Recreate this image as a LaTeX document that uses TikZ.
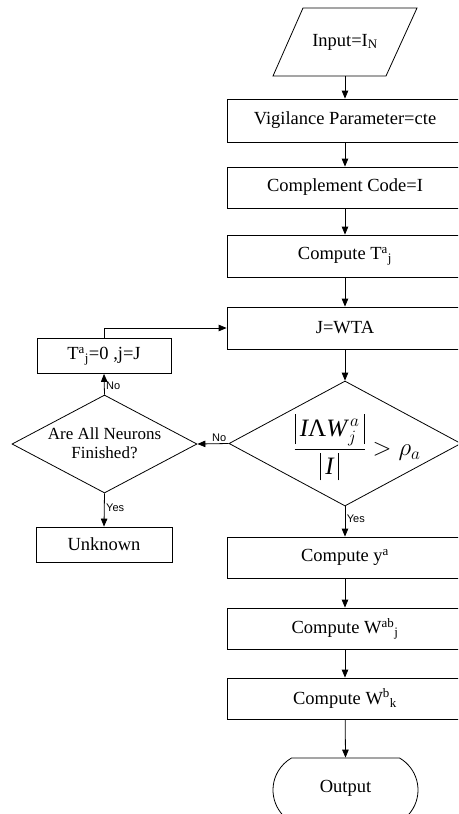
\documentclass[tikz,border=0pt]{standalone}
\usepackage{amsmath}
\usepackage{fontspec}
\setmainfont{Liberation Serif}
\newfontfamily\labfont{Liberation Sans}
\usetikzlibrary{shapes.geometric,shapes.misc,arrows.meta}
\newcommand{\mybar}{\rule[-0.3em]{0.04em}{1.22em}}
\newcommand{\mybarsm}{\rule[-0.25em]{0.04em}{1.1em}}
\tikzset{
  box/.style={draw, line width=0.8pt, inner sep=0pt, minimum width=236pt, minimum height=42pt, font=\fontsize{18.5}{21}\selectfont},
  sbox/.style={draw, line width=0.8pt, inner sep=0pt, minimum width=135pt, minimum height=35pt, font=\fontsize{18.5}{21}\selectfont},
  arr/.style={line width=0.8pt, -{Triangle[length=8pt,width=6.5pt]}},
  lab/.style={font=\labfont\fontsize{11}{12}\selectfont, inner sep=1.5pt},
  dia/.style={draw, line width=0.8pt, shape=diamond, inner sep=0pt}
}
\begin{document}
\begin{tikzpicture}[x=1pt,y=-1pt]
\path[use as bounding box] (0,0) rectangle (458,814);
\clip (0,0) rectangle (458,814);
% input parallelogram
\node[inner sep=0pt, minimum width=114pt, minimum height=68pt, font=\fontsize{18.5}{21}\selectfont] (input) at (345,42) {Input=I\textsubscript{N}};
\draw[line width=0.8pt] (303,8) -- (417,8) -- (386,76) -- (273,76) -- cycle;
% main column
\node[box, minimum height=43pt] (vig) at (345,120.5) {Vigilance Parameter=cte};
\node[box, minimum height=41pt] (comp) at (345,187.5) {Complement Code=I};
\node[box] (tj) at (345,256) {Compute T\textsuperscript{a}\textsubscript{j}};
\node[box] (wta) at (345,328) {J=WTA};
\node[dia, minimum width=232pt, minimum height=125pt] (dec) at (345,443.5) {};
\node[inner sep=0pt, font=\fontsize{25}{29}\selectfont] (frm) at (357,447) {$\dfrac{\mybar\,\textit{I}\textup{Λ}\textit{W}^{\kern3pt a}_{\kern1pt j}\,\mybar}{\mybarsm\,\textit{I}\,\mybarsm} > \rho_{a}$};
\node[box, minimum height=41pt] (ya) at (345,557.5) {Compute y\textsuperscript{a}};
\node[box, minimum height=41pt] (wab) at (345,628.5) {Compute W\textsuperscript{ab}\textsubscript{j}};
\node[box, minimum height=41pt] (wbk) at (345,698.5) {Compute W\textsuperscript{b}\textsubscript{k}};
\node[draw, line width=0.8pt, shape=rounded rectangle, rounded rectangle arc length=120, minimum width=145pt, minimum height=64pt, inner sep=0pt] (out) at (345.5,790) {};
\node[font=\fontsize{18.5}{21}\selectfont, inner sep=0pt] (outt) at (345.5,788) {Output};
% left column
\node[sbox, minimum width=134pt] (tz) at (104,356) {T\textsuperscript{a}\textsubscript{j}=0 ,j=J};
\node[dia, minimum width=185pt, minimum height=98pt] (are) at (104.5,444) {};
\node[align=center, inner sep=0pt, font=\fontsize{17}{19.5}\selectfont] (aret) at (104.5,443) {Are All Neurons\\Finished?};
\node[sbox, minimum width=136pt] (unk) at (104,544.5) {Unknown};
% connectors
\draw[arr] (input) -- (vig);
\draw[arr] (vig) -- (comp);
\draw[arr] (comp) -- (tj);
\draw[arr] (tj) -- (wta);
\draw[arr] (wta) -- (dec.north);
\draw[arr] (dec.south) -- node[lab, right, pos=0.42]{Yes} (ya);
\draw[arr] (ya) -- (wab);
\draw[arr] (wab) -- (wbk);
\draw[arr] (wbk) -- (out.north);
\draw[arr] (dec.west) -- node[lab, above, pos=0.3]{No} (are.east);
\draw[arr] (are.north) -- node[lab, right, pos=0.45]{No} (tz.south);
\draw[arr] (tz.north) |- (wta.west);
\draw[arr] (are.south) -- node[lab, right, pos=0.42]{Yes} (unk.north);
\end{tikzpicture}
\end{document}
